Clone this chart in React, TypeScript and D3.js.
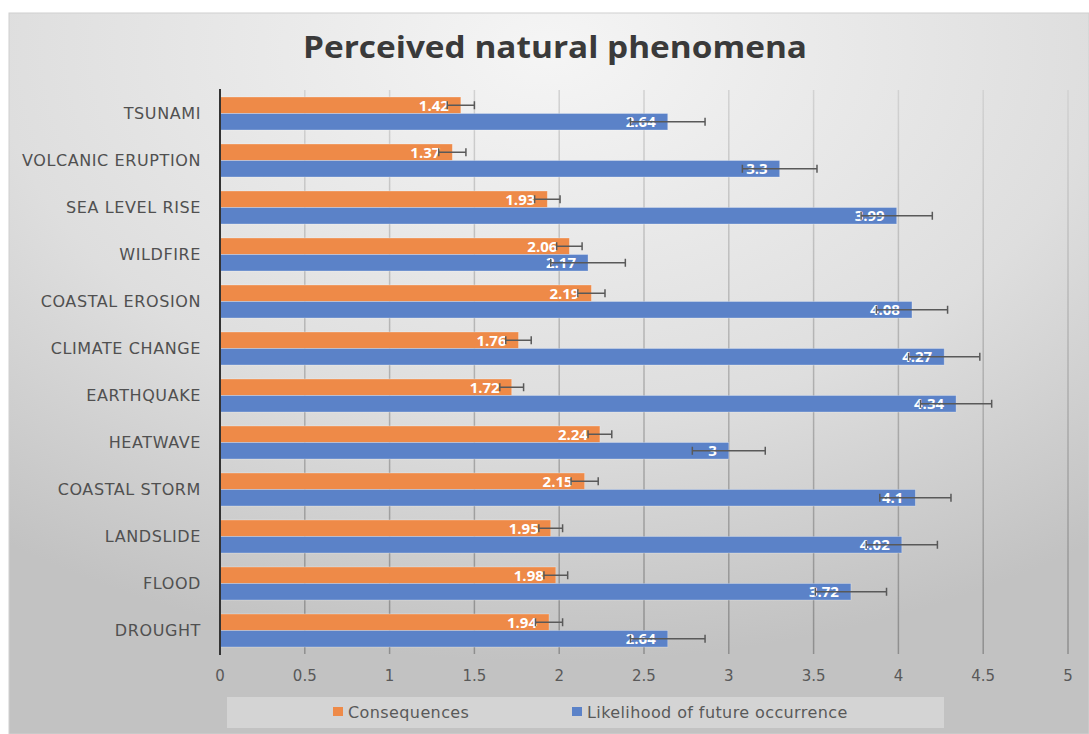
import React from "react";
import * as d3 from "d3";

const categories = [
  "TSUNAMI",
  "VOLCANIC ERUPTION",
  "SEA LEVEL RISE",
  "WILDFIRE",
  "COASTAL EROSION",
  "CLIMATE CHANGE",
  "EARTHQUAKE",
  "HEATWAVE",
  "COASTAL STORM",
  "LANDSLIDE",
  "FLOOD",
  "DROUGHT",
];
const consequences = [1.42, 1.37, 1.93, 2.06, 2.19, 1.76, 1.72, 2.24, 2.15, 1.95, 1.98, 1.94];
const consequencesErr = [0.08, 0.08, 0.075, 0.075, 0.08, 0.075, 0.07, 0.07, 0.08, 0.07, 0.07, 0.08];
const likelihood = [2.64, 3.3, 3.99, 2.17, 4.08, 4.27, 4.34, 3, 4.1, 4.02, 3.72, 2.64];
const likelihoodErr = [0.22, 0.22, 0.21, 0.22, 0.21, 0.21, 0.21, 0.215, 0.21, 0.21, 0.21, 0.22];
const ticks = [0, 0.5, 1, 1.5, 2, 2.5, 3, 3.5, 4, 4.5, 5];
const seriesNames = ["Consequences", "Likelihood of future occurrence"];

const W = 1089;
const H = 734;
const font = "'Open Sans', sans-serif";
const wide = "'DejaVu Sans', sans-serif";
const ORANGE = "#ee8a48";
const BLUE = "#5b82c8";

const App = () => {
  const x = d3.scaleLinear().domain([0, 5]).range([220, 1068]);
  const y = d3.scaleBand().domain(categories).range([90, 654]);
  const bandH = y.bandwidth();
  const barH = 16.5;
  const pad = (bandH - 2 * barH) / 2;

  const series = [
    { name: seriesNames[0], values: consequences, err: consequencesErr, color: ORANGE, off: pad },
    { name: seriesNames[1], values: likelihood, err: likelihoodErr, color: BLUE, off: pad + barH },
  ];

  return (
    <svg width={W} height={H} style={{ position: "absolute", left: 0, top: 0 }}>
      <defs>
        <radialGradient id="bg" cx="50%" cy="5%" r="85%" gradientUnits="objectBoundingBox">
          <stop offset="0%" stopColor="#f5f5f5" />
          <stop offset="60%" stopColor="#dedede" />
          <stop offset="100%" stopColor="#c2c2c2" />
        </radialGradient>
        <linearGradient id="grid" gradientUnits="userSpaceOnUse" x1="0" y1="90" x2="0" y2="654">
          <stop offset="0%" stopColor="#d2d2d2" />
          <stop offset="100%" stopColor="#8e8e8e" />
        </linearGradient>
      </defs>
      <rect x={0} y={0} width={W} height={H} fill="#fff" />
      <rect x={9} y={13} width={W - 9} height={H - 13} fill="url(#bg)" stroke="#d0d0d0" />

      <text
        x={303}
        y={58}
        textLength={504}
        lengthAdjust="spacingAndGlyphs"
        fontFamily={font}
        fontWeight="bold"
        fontSize={30}
        fill="#3a3a3a"
      >
        Perceived natural phenomena
      </text>

      {/* gridlines */}
      {ticks.slice(1).map((t) => (
        <line key={t} x1={x(t)} x2={x(t)} y1={90} y2={654} stroke="url(#grid)" strokeWidth={1.5} />
      ))}

      {/* bars */}
      {series.map((s) =>
        categories.map((c, i) => (
          <rect
            key={s.name + c}
            x={x(0)}
            y={(y(c) as number) + s.off}
            width={x(s.values[i]) - x(0)}
            height={barH}
            fill={s.color}
            stroke="#ffffff"
            strokeOpacity={0.35}
            strokeWidth={0.8}
          />
        ))
      )}

      {/* data labels */}
      {series.map((s) =>
        categories.map((c, i) => (
          <text
            key={"l" + s.name + c}
            x={x(s.values[i]) - 12}
            y={(y(c) as number) + s.off + barH / 2 + 5.5}
            textAnchor="end"
            fontFamily={font}
            fontWeight="bold"
            fontSize={15}
            fill="#ffffff"
          >
            {s.values[i]}
          </text>
        ))
      )}

      {/* error bars */}
      {series.map((s) =>
        categories.map((c, i) => {
          const cy = (y(c) as number) + s.off + barH / 2;
          const x1 = x(s.values[i] - s.err[i]);
          const x2 = x(s.values[i] + s.err[i]);
          return (
            <g key={"e" + s.name + c} stroke="#595959" strokeWidth={1.5}>
              <line x1={x1} x2={x2} y1={cy} y2={cy} />
              <line x1={x1} x2={x1} y1={cy - 4} y2={cy + 4} />
              <line x1={x2} x2={x2} y1={cy - 4} y2={cy + 4} />
            </g>
          );
        })
      )}

      {/* vertical axis line */}
      <line x1={x(0)} x2={x(0)} y1={89} y2={655} stroke="#333" strokeWidth={2} />

      {/* category labels */}
      {categories.map((c) => (
        <text
          key={"c" + c}
          x={201}
          y={(y(c) as number) + bandH / 2 + 5.5}
          textAnchor="end"
          fontFamily={wide}
          fontSize={16}
          letterSpacing={0.6}
          fill="#505050"
        >
          {c}
        </text>
      ))}

      {/* x tick labels */}
      {ticks.map((t) => (
        <text key={"t" + t} x={x(t)} y={681} textAnchor="middle" fontFamily={wide} fontSize={15} fill="#595959">
          {t}
        </text>
      ))}

      {/* legend */}
      <rect x={227} y={697} width={717} height={31} fill="#ffffff" fillOpacity={0.3} />
      <rect x={333} y={707} width={10} height={9} fill={ORANGE} />
      <text x={348} y={717.5} fontFamily={wide} fontSize={16} letterSpacing={0.4} fill="#595959">
        {seriesNames[0]}
      </text>
      <rect x={572} y={707} width={10} height={9} fill={BLUE} />
      <text x={587} y={717.5} fontFamily={wide} fontSize={16} letterSpacing={0.4} fill="#595959">
        {seriesNames[1]}
      </text>
    </svg>
  );
};

export default App;
